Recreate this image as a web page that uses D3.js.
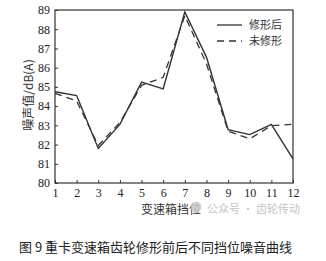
<!DOCTYPE html>
<html>
<head>
<meta charset="utf-8">
<script src="https://cdn.jsdelivr.net/npm/d3@7"></script>
<style>
  body { margin: 0; background: #fff; }
  svg { display: block; }
</style>
</head>
<body>
<div id="chart"></div>
<script>
const gears = [1, 2, 3, 4, 5, 6, 7, 8, 9, 10, 11, 12];
const modified = [84.75, 84.55, 81.8, 83.05, 85.25, 84.9, 88.9, 86.55, 82.78, 82.52, 83.05, 81.25];
const unmodified = [84.66, 84.27, 81.95, 83.15, 85.08, 85.5, 88.7, 86.2, 82.7, 82.3, 82.98, 83.05];
const yTicks = [80, 81, 82, 83, 84, 85, 86, 87, 88, 89];

const W = 326, H = 261;
const margin = { top: 10, right: 33, bottom: 78, left: 55 };
const width = W - margin.left - margin.right;
const height = H - margin.top - margin.bottom;
const serif = "'Liberation Serif', 'DejaVu Serif', serif";
const cjk = "'Noto Sans CJK SC', sans-serif";
const ink = "#333";

const svg = d3.select("#chart").append("svg")
    .attr("width", W)
    .attr("height", H);

const g = svg.append("g")
    .attr("transform", `translate(${margin.left},${margin.top})`);

const x = d3.scaleLinear().domain([1, 12]).range([0, width]);
const y = d3.scaleLinear().domain([80, 89]).range([height, 0]);

// frame
g.append("rect")
    .attr("width", width)
    .attr("height", height)
    .attr("fill", "none")
    .attr("stroke", ink)
    .attr("stroke-width", 1.2);

const xAxis = g.append("g")
    .attr("transform", `translate(0,${height})`)
    .call(d3.axisBottom(x).tickValues(gears).tickSize(-3).tickPadding(5).tickFormat(d3.format("d")));
xAxis.select(".domain").remove();
xAxis.selectAll("line").attr("stroke", ink);
xAxis.selectAll("text").style("font-family", serif).style("font-size", "12px").attr("fill", "#222");

const yAxis = g.append("g")
    .call(d3.axisLeft(y).tickValues(yTicks).tickSize(-3).tickPadding(5));
yAxis.select(".domain").remove();
yAxis.selectAll("line").attr("stroke", ink);
yAxis.selectAll("text").style("font-family", serif).style("font-size", "12px").attr("fill", "#222");

const line = d3.line()
    .x((d, i) => x(gears[i]))
    .y(d => y(d));

g.append("path")
    .datum(unmodified)
    .attr("fill", "none")
    .attr("stroke", ink)
    .attr("stroke-width", 1.3)
    .attr("stroke-dasharray", "7,5")
    .attr("d", line);

g.append("path")
    .datum(modified)
    .attr("fill", "none")
    .attr("stroke", ink)
    .attr("stroke-width", 1.4)
    .attr("d", line);

// legend
const legend = g.append("g").attr("transform", `translate(${217 - margin.left},0)`);
[["修形后", null, 15], ["未修形", "7,5", 31]].forEach(([label, dash, ly]) => {
    legend.append("line")
        .attr("x1", 0).attr("x2", 25)
        .attr("y1", ly).attr("y2", ly)
        .attr("stroke", ink)
        .attr("stroke-width", 1.3)
        .attr("stroke-dasharray", dash);
    legend.append("text")
        .attr("x", 32)
        .attr("y", ly)
        .attr("dy", "0.35em")
        .style("font-family", cjk)
        .style("font-size", "11px")
        .attr("fill", "#333")
        .text(label);
});

// axis titles
svg.append("text")
    .attr("x", margin.left + width / 2 - 3)
    .attr("y", 214)
    .attr("text-anchor", "middle")
    .style("font-family", cjk)
    .style("font-size", "12px")
    .attr("fill", "#333")
    .text("变速箱挡位");

svg.append("text")
    .attr("transform", "rotate(-90)")
    .attr("x", -95)
    .attr("y", 33)
    .attr("text-anchor", "middle")
    .style("font-family", cjk)
    .style("font-size", "12px")
    .attr("fill", "#333")
    .text("噪声值/dB(A)");

// watermark
svg.append("circle")
    .attr("cx", 196).attr("cy", 207).attr("r", 5.5)
    .attr("fill", "#c8c8c8").attr("opacity", 0.8);
svg.append("text")
    .attr("x", 207)
    .attr("y", 213)
    .style("font-family", cjk)
    .style("font-size", "11px")
    .attr("fill", "#c4c4c4")
    .text("公众号 · 齿轮传动");

// caption
svg.append("text")
    .attr("x", 19)
    .attr("y", 252)
    .style("font-family", cjk)
    .style("font-size", "13px")
    .attr("fill", "#222")
    .text("图 9 重卡变速箱齿轮修形前后不同挡位噪音曲线");
</script>
</body>
</html>
